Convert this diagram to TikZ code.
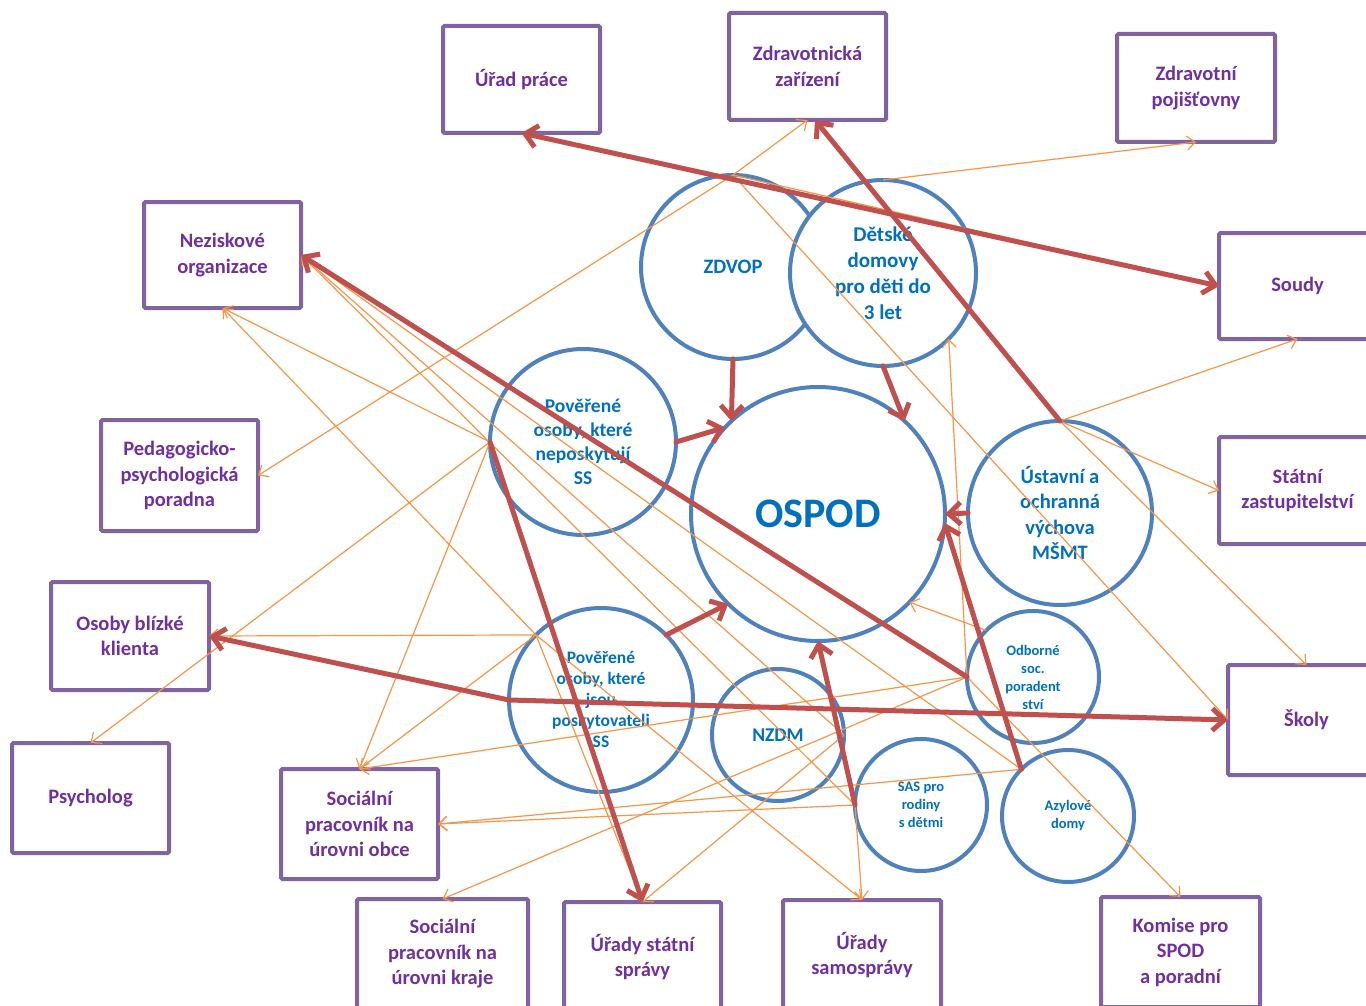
\documentclass[tikz,border=0pt]{standalone}
\usepackage{fontspec}
\setmainfont{Carlito}
\usetikzlibrary{arrows.meta}
\definecolor{boxpurple}{HTML}{8064A2}
\definecolor{textpurple}{HTML}{7030A0}
\definecolor{circblue}{HTML}{4F81BD}
\definecolor{textblue}{HTML}{0070C0}
\definecolor{redarrow}{HTML}{C0504D}
\definecolor{orangec}{HTML}{F79646}
\begin{document}
\begin{tikzpicture}[x=1pt,y=-1pt,
  bx/.style={draw=boxpurple, line width=4pt, fill=white, rectangle, rounded corners=1.5pt,
    inner sep=0pt, outer sep=0pt, text=textpurple, align=center,
    font=\bfseries\fontsize{20.5}{25.5}\selectfont},
  cc/.style={draw=circblue, line width=4pt, fill=white, circle, inner sep=0pt, outer sep=0pt,
    text=textblue, align=center},
  org/.style={draw=orangec, line width=1.2pt, -{Straight Barb[length=8pt,width=14pt]}},
  rarr/.style={draw=redarrow, line width=5pt, line cap=round, -{Straight Barb[length=12pt,width=22pt]}},
  rarrtwo/.style={draw=redarrow, line width=5pt, line cap=round, {Straight Barb[length=12pt,width=22pt]}-{Straight Barb[length=12pt,width=22pt]}}]
\useasboundingbox (0,0) rectangle (1366,1006);
\fill[white] (0,0) rectangle (1366,1006);
\clip (0,0) rectangle (1366,1006);

% boxes
\node[bx, minimum width=157pt, minimum height=107pt] (up) at (521.5,79.5) {Úřad práce};
\node[bx, minimum width=157pt, minimum height=107pt] (zz) at (807.5,66.5) {Zdravotnická\\zařízení};
\node[bx, minimum width=158pt, minimum height=108pt] (zp) at (1196,88) {Zdravotní\\pojišťovny};
\node[bx, minimum width=157pt, minimum height=106pt] (nez) at (222.5,255) {Neziskové\\organizace};
\node[bx, minimum width=157pt, minimum height=106pt] (soudy) at (1297.5,286) {Soudy};
\node[bx, minimum width=157pt, minimum height=111pt] (ped) at (179.5,475.5) {Pedagogicko-\\psychologická\\poradna};
\node[bx, minimum width=157pt, minimum height=107pt] (sz) at (1297.5,490.5) {Státní\\zastupitelství};
\node[bx, minimum width=158pt, minimum height=108pt] (osoby) at (130,636) {Osoby blízké\\klienta};
\node[bx, minimum width=157pt, minimum height=110pt] (skoly) at (1306.5,720) {Školy};
\node[bx, minimum width=157pt, minimum height=110pt] (psy) at (90.5,798) {Psycholog};
\node[bx, minimum width=157pt, minimum height=110pt] (soco) at (359.5,824) {Sociální\\pracovník na\\úrovni obce};
\node[bx, minimum width=171pt, minimum height=110pt] (sock) at (442.5,954) {Sociální\\pracovník na\\úrovni kraje};
\node[bx, minimum width=157pt, minimum height=110pt] (usp) at (642.5,957) {Úřady státní\\správy};
\node[bx, minimum width=158pt, minimum height=110pt] (usam) at (862,955) {Úřady\\samosprávy};
\node[bx, minimum width=159pt, minimum height=110pt] (kom) at (1180.5,952) {Komise pro\\SPOD\\a poradní};

% circles
\node[cc, minimum size=184pt, font=\bfseries\fontsize{20.5}{26}\selectfont] (zdvop) at (733,267) {ZDVOP};
\node[cc, minimum size=186pt, font=\bfseries\fontsize{21}{26}\selectfont] (dd) at (883,273) {Dětské\\domovy\\pro děti do\\3 let};
\node[cc, minimum size=186pt, font=\bfseries\fontsize{19.5}{24}\selectfont] (pn) at (583,442) {Pověřené\\osoby, které\\neposkytují\\SS};
\node[cc, minimum size=254pt, font=\bfseries\fontsize{42}{46}\selectfont] (ospod) at (818,514) {OSPOD};
\node[cc, minimum size=184pt, font=\bfseries\fontsize{20.5}{25.5}\selectfont] (ust) at (1060,513) {Ústavní a\\ochranná\\výchova\\MŠMT};
\node[cc, minimum size=184pt, font=\bfseries\fontsize{17.5}{21}\selectfont] (pp) at (601,700) {Pověřené\\osoby, které\\jsou\\poskytovateli\\SS};
\node[cc, minimum size=132pt, font=\bfseries\fontsize{19.5}{22}\selectfont] (nz) at (778,735) {NZDM};
\node[cc, minimum size=132pt, font=\bfseries\fontsize{14.5}{18}\selectfont] (odb) at (1033,677) {Odborné\\soc.\\poradent\\ství};
\node[cc, minimum size=132pt, font=\bfseries\fontsize{14.5}{18}\selectfont] (sas) at (921,805) {SAS pro\\rodiny\\s dětmi};
\node[cc, minimum size=132pt, font=\bfseries\fontsize{14.5}{18}\selectfont] (az) at (1068,816) {Azylové\\domy};

% orange connectors
\draw[org] (zdvop.north) -- (zz.south);
\draw[org] (zdvop.north) -- (ped.east);
\draw[org] (zdvop.north) -- (soudy.west);
\draw[org] (zdvop.north) -- (skoly.west);
\draw[org] (dd.north) -- (zp.south);
\draw[org] (ust.north) -- (soudy.south);
\draw[org] (ust.north) -- (sz.west);
\draw[org] (ust.north) -- (skoly.north);
\draw[org] (pn.west) -- (nez.south);
\draw[org] (pn.west) -- (psy.north);
\draw[org] (pn.west) -- (soco.north);
\draw[org] (pp.135) -- (osoby.east);
\draw[org] (pp.135) -- (nez.south);
\draw[org] (pp.135) -- (soco.north);
\draw[org] (pp.135) -- (usp.north);
\draw[org] (pp.135) -- (usam.north);
\draw[org] (odb.west) -- (dd.-45);
\draw[org] (odb.west) -- (kom.north);
\draw[org] (odb.west) -- (soco.north);
\draw[org] (odb.west) -- (sock.north);
\draw[org] (odb.135) -- (ospod.-44);
\draw[org] (sas.west) -- (soco.east);
\draw[org] (sas.west) -- (usam.north);
\draw[org] (sas.west) -- (nez.east);
\draw[org] (az.135) -- (soco.east);
\draw[org] (az.135) -- (nez.east);
\draw[org] (nz.east) -- (nez.east);
\draw[org] (nz.east) -- (usp.north);

% red connectors
\draw[rarr] (zdvop.south) -- (ospod.133);
\draw[rarr] (dd.south) -- (ospod.47);
\draw[rarr] (pn.east) -- (ospod.137);
\draw[rarr] (pp.45) -- (ospod.225);
\draw[rarr] (sas.west) -- (ospod.south);
\draw[rarr] (az.135) -- (ospod.-4);
\draw[rarr] (ust.west) -- (ospod.0);
\draw[rarrtwo] (up.south) -- (soudy.west);
\draw[rarr] (odb.west) -- (nez.east);
\draw[rarr] (pp.west) -- (osoby.east);
\draw[rarr] (pp.west) -- (skoly.west);
\draw[rarr] (pn.west) -- (usp.north);
\draw[rarr] (ust.north) -- (zz.-82);
\end{tikzpicture}
\end{document}
